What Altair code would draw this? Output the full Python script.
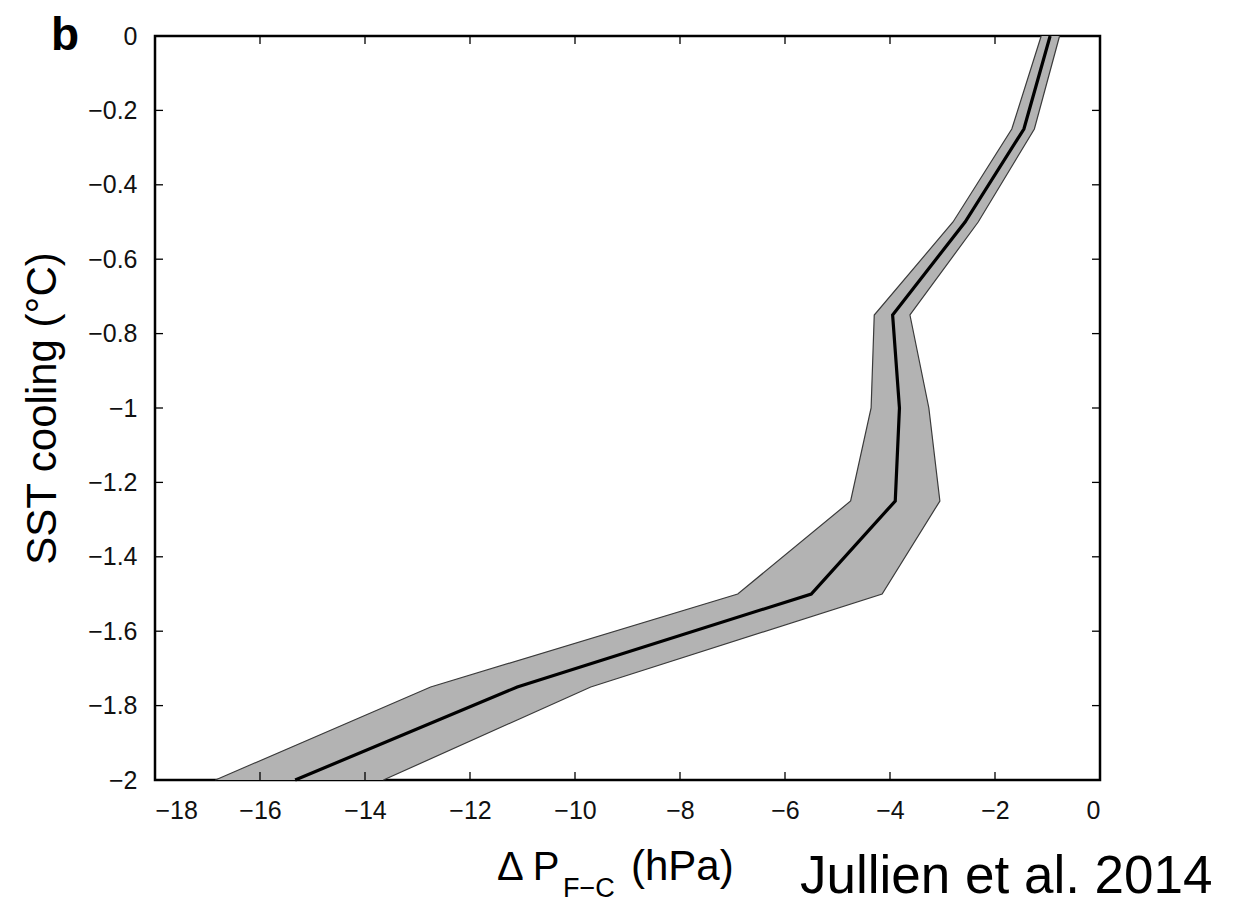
import altair as alt
import pandas as pd

# ---- data ----
sst_cooling = [0.0, -0.25, -0.5, -0.75, -1.0, -1.25, -1.5, -1.75, -2.0]
dp_mean = [-0.95, -1.45, -2.57, -3.95, -3.82, -3.9, -5.5, -11.1, -15.33]
dp_low = [-1.12, -1.68, -2.8, -4.3, -4.36, -4.75, -6.9, -12.75, -16.85]
dp_high = [-0.77, -1.25, -2.32, -3.62, -3.26, -3.05, -4.15, -9.7, -13.65]

x_ticks = [-18, -16, -14, -12, -10, -8, -6, -4, -2, 0]
y_ticks = [0, -0.2, -0.4, -0.6, -0.8, -1, -1.2, -1.4, -1.6, -1.8, -2]

W, H = 945, 744
FONT = "Liberation Sans"

df = pd.DataFrame({"sst": sst_cooling, "mean": dp_mean, "low": dp_low, "high": dp_high})
xt = pd.DataFrame({"v": x_ticks})
yt = pd.DataFrame({"v": y_ticks})
one = pd.DataFrame({"a": [0]})

xscale = alt.Scale(domain=[-18, 0], nice=False, zero=False)
yscale = alt.Scale(domain=[-2, 0], nice=False, zero=False)

y_axis = alt.Axis(values=y_ticks, format="~g", title="SST cooling (°C)",
                  titleFont=FONT, titleFontSize=42, titleFontWeight="normal",
                  titleColor="black", titleAngle=270, titleAlign="center",
                  titleBaseline="middle", titleX=-113, titleY=H / 2,
                  labelFont=FONT, labelFontSize=25, labelColor="#111111",
                  labelPadding=18, ticks=False, domain=False, grid=False)
x_axis = alt.Axis(values=x_ticks, format="~g", title=None,
                  labelFont=FONT, labelFontSize=25, labelColor="#111111",
                  labelPadding=18, ticks=False, domain=False, grid=False)

base = alt.Chart(df)

band = base.mark_area(orient="horizontal", color="#b3b3b3", opacity=1).encode(
    y=alt.Y("sst:Q", scale=yscale, axis=y_axis),
    x=alt.X("low:Q", scale=xscale, axis=x_axis),
    x2="high:Q",
)


def path(field, color, width):
    return base.mark_line(color=color, strokeWidth=width).encode(
        y=alt.Y("sst:Q", scale=yscale, axis=y_axis),
        x=alt.X(field + ":Q", scale=xscale, axis=x_axis),
        order=alt.Order("sst:Q", sort="descending"),
    )


edge_low = path("low", "#3a3a3a", 1.2)
edge_high = path("high", "#3a3a3a", 1.2)
mean_line = path("mean", "black", 3.2)

TL = 8
tick_style = dict(color="black", strokeWidth=1.3)
xb = alt.Chart(xt).mark_rule(**tick_style).encode(
    x=alt.X("v:Q", scale=xscale, axis=x_axis), y=alt.value(H), y2=alt.value(H - TL))
xtp = alt.Chart(xt).mark_rule(**tick_style).encode(
    x=alt.X("v:Q", scale=xscale, axis=x_axis), y=alt.value(0), y2=alt.value(TL))
yl = alt.Chart(yt).mark_rule(**tick_style).encode(
    y=alt.Y("v:Q", scale=yscale, axis=y_axis), x=alt.value(0), x2=alt.value(TL))
yr = alt.Chart(yt).mark_rule(**tick_style).encode(
    y=alt.Y("v:Q", scale=yscale, axis=y_axis), x=alt.value(W), x2=alt.value(W - TL))


def label(text, x, y, size, weight="normal", align="left"):
    return alt.Chart(one).mark_text(
        font=FONT, fontSize=size, fontWeight=weight, align=align,
        baseline="alphabetic", color="black",
    ).encode(x=alt.value(x), y=alt.value(y), text=alt.value(text))


panel = label("b", -104, 14, 46, weight="bold")
t_dp = label("Δ P", 342, 844, 40)
t_sub = label("F\u2212C", 408, 861, 27)
t_unit = label("(hPa)", 476, 844, 42)
t_cite = label("Jullien et al. 2014", 645, 857, 53)

chart = alt.layer(
    band, edge_low, edge_high, mean_line, xb, xtp, yl, yr,
    panel, t_dp, t_sub, t_unit, t_cite,
).properties(
    width=W, height=H,
    background="white",
    autosize=alt.AutoSizeParams(type="none"),
    padding={"left": 155, "top": 36, "right": 142, "bottom": 124},
).configure_view(
    stroke="black", strokeWidth=2.5, fill="white"
)

chart.save("out.html", embed_options={"renderer": "svg", "actions": False})
